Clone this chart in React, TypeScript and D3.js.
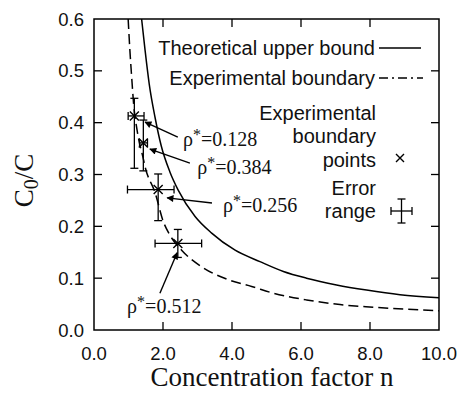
import React from 'react'
import * as d3 from 'd3'

// theoretical upper bound (solid)
const boundN = [1.38, 1.48, 1.6, 1.77, 1.95, 2.2, 2.44, 2.93, 3.41, 4.09, 4.81, 5.49, 6.16, 7.03, 7.9, 8.87, 10.0]
const boundC = [0.6, 0.54, 0.475, 0.41, 0.355, 0.305, 0.27, 0.219, 0.187, 0.154, 0.132, 0.113, 0.1, 0.087, 0.077, 0.068, 0.062]

// experimental boundary (dashed)
const expN = [0.99, 1.04, 1.09, 1.15, 1.25, 1.43, 1.48, 1.77, 2.01, 2.2, 2.54, 3.12, 3.89, 4.57, 5.2, 6.16, 7.13, 8.1, 9.06, 10.0]
const expC = [0.6, 0.54, 0.49, 0.435, 0.385, 0.33, 0.315, 0.265, 0.209, 0.183, 0.154, 0.122, 0.097, 0.084, 0.071, 0.058, 0.049, 0.044, 0.04, 0.037]

// experimental boundary points with error ranges
const rhoLabels = ['0.128', '0.384', '0.256', '0.512']
const pointN = [1.17, 1.43, 1.86, 2.43]
const pointC = [0.413, 0.361, 0.271, 0.167]
const nLow = [0.99, 1.32, 0.97, 1.77]
const nHigh = [1.45, 1.55, 2.32, 3.12]
const cLow = [0.312, 0.307, 0.211, 0.14]
const cHigh = [0.447, 0.405, 0.301, 0.194]

// annotation text anchors and arrows (data units)
const labelN = [2.58, 2.99, 3.74, 0.96]
const labelC = [0.355, 0.301, 0.228, 0.033]
const arrowFromN = [2.43, 2.78, 3.42, 1.91]
const arrowFromC = [0.372, 0.322, 0.245, 0.071]
const arrowToN = [1.48, 1.62, 2.12, 2.41]
const arrowToC = [0.401, 0.349, 0.255, 0.149]

const xTicks = [0, 2, 4, 6, 8, 10]
const yTicks = [0, 0.1, 0.2, 0.3, 0.4, 0.5, 0.6]

const W = 461
const H = 394
const left = 94
const right = 439
const top = 19
const bottom = 330
const sans = "'Liberation Sans', Arial, sans-serif"
const serif = "'Liberation Serif', 'Times New Roman', serif"

const Cross = ({ x, y, s }: { x: number; y: number; s: number }) => (
  <path d={`M${x - s},${y - s}L${x + s},${y + s}M${x - s},${y + s}L${x + s},${y - s}`} stroke="#000" strokeWidth={1.4} />
)

export default function App() {
  const x = d3.scaleLinear().domain([0, 10]).range([left, right])
  const y = d3.scaleLinear().domain([0, 0.6]).range([bottom, top])

  const curve = d3.line<[number, number]>()
    .x(d => x(d[0]))
    .y(d => y(d[1]))
    .curve(d3.curveMonotoneX)
  const boundPath = curve(boundN.map((n, i) => [n, boundC[i]]))
  const expPath = curve(expN.map((n, i) => [n, expC[i]]))

  const tick = 8
  const cap = 4

  return (
    <svg width={W} height={H} style={{ position: 'absolute', left: 0, top: 0, background: '#fff' }}>
      <defs>
        <clipPath id="plot">
          <rect x={left} y={top} width={right - left} height={bottom - top} />
        </clipPath>
        <marker id="head" viewBox="0 0 10 10" refX="9" refY="5" markerWidth="9" markerHeight="7" markerUnits="userSpaceOnUse" orient="auto">
          <path d="M0,0L10,5L0,10Z" fill="#000" />
        </marker>
      </defs>

      {/* frame */}
      <rect x={left} y={top} width={right - left} height={bottom - top} fill="none" stroke="#000" strokeWidth={1.5} />

      {/* ticks, inward on all four sides */}
      {xTicks.slice(1, -1).map(t => (
        <g key={'xt' + t}>
          <line x1={x(t)} x2={x(t)} y1={bottom} y2={bottom - tick} stroke="#000" strokeWidth={1.3} />
          <line x1={x(t)} x2={x(t)} y1={top} y2={top + tick} stroke="#000" strokeWidth={1.3} />
        </g>
      ))}
      {yTicks.slice(1, -1).map(t => (
        <g key={'yt' + t}>
          <line x1={left} x2={left + tick} y1={y(t)} y2={y(t)} stroke="#000" strokeWidth={1.3} />
          <line x1={right} x2={right - tick} y1={y(t)} y2={y(t)} stroke="#000" strokeWidth={1.3} />
        </g>
      ))}

      {/* tick labels */}
      {xTicks.map(t => (
        <text key={'xl' + t} x={x(t)} y={360} textAnchor="middle" fontFamily={sans} fontSize={18.5} fill="#111">
          {t.toFixed(1)}
        </text>
      ))}
      {yTicks.map(t => (
        <text key={'yl' + t} x={84} y={y(t)} dy="0.36em" textAnchor="end" fontFamily={sans} fontSize={18.5} fill="#111">
          {t.toFixed(1)}
        </text>
      ))}

      {/* axis titles */}
      <text x={272} y={386} textAnchor="middle" fontFamily={serif} fontSize={27} fill="#111">
        Concentration factor n
      </text>
      <text transform={`translate(33,${(top + bottom) / 2 + 6}) rotate(-90)`} textAnchor="middle" fontFamily={serif} fontSize={27} fill="#111">
        C<tspan fontSize={20} dy={5}>0</tspan><tspan dy={-5}>/C</tspan>
      </text>

      {/* curves */}
      <g clipPath="url(#plot)">
        <path d={boundPath ?? ''} fill="none" stroke="#000" strokeWidth={1.5} />
        <path d={expPath ?? ''} fill="none" stroke="#000" strokeWidth={1.5} strokeDasharray="10,5" />
      </g>

      {/* error bars and points */}
      {pointN.map((n, i) => (
        <g key={'p' + i} stroke="#000" strokeWidth={1.3}>
          <line x1={x(nLow[i])} x2={x(nHigh[i])} y1={y(pointC[i])} y2={y(pointC[i])} />
          <line x1={x(nLow[i])} x2={x(nLow[i])} y1={y(pointC[i]) - cap} y2={y(pointC[i]) + cap} />
          <line x1={x(nHigh[i])} x2={x(nHigh[i])} y1={y(pointC[i]) - cap} y2={y(pointC[i]) + cap} />
          <line x1={x(n)} x2={x(n)} y1={y(cLow[i])} y2={y(cHigh[i])} />
          <line x1={x(n) - cap} x2={x(n) + cap} y1={y(cLow[i])} y2={y(cLow[i])} />
          <line x1={x(n) - cap} x2={x(n) + cap} y1={y(cHigh[i])} y2={y(cHigh[i])} />
          <Cross x={x(n)} y={y(pointC[i])} s={4.5} />
        </g>
      ))}

      {/* annotations */}
      {rhoLabels.map((r, i) => (
        <g key={'a' + i}>
          <line x1={x(arrowFromN[i])} y1={y(arrowFromC[i])} x2={x(arrowToN[i])} y2={y(arrowToC[i])} stroke="#000" strokeWidth={1.4} markerEnd="url(#head)" />
          <text x={x(labelN[i])} y={y(labelC[i])} fontFamily={serif} fontSize={20} fill="#111">
            ρ<tspan dy={-6} fontSize={16}>*</tspan><tspan dy={6}>={r}</tspan>
          </text>
        </g>
      ))}

      {/* legend */}
      <g fontFamily={sans} fontSize={20} fill="#111" textAnchor="end">
        <text x={375} y={48} dy="0.36em">Theoretical upper bound</text>
        <line x1={379} x2={421} y1={48} y2={48} stroke="#000" strokeWidth={1.5} />
        <text x={375} y={78} dy="0.36em">Experimental boundary</text>
        <line x1={379} x2={423} y1={78} y2={78} stroke="#000" strokeWidth={1.5} strokeDasharray="9,4,2,4" />
        <text x={376} y={113} dy="0.36em">Experimental</text>
        <text x={376} y={136} dy="0.36em">boundary</text>
        <text x={376} y={160} dy="0.36em">points</text>
        <Cross x={400} y={158} s={4} />
        <text x={376} y={188} dy="0.36em">Error</text>
        <text x={376} y={211} dy="0.36em">range</text>
        <g stroke="#000" strokeWidth={1.3}>
          <line x1={391} x2={412} y1={211} y2={211} />
          <line x1={391} x2={391} y1={207} y2={215} />
          <line x1={412} x2={412} y1={207} y2={215} />
          <line x1={401.5} x2={401.5} y1={199} y2={223} />
          <line x1={397.5} x2={405.5} y1={199} y2={199} />
          <line x1={397.5} x2={405.5} y1={223} y2={223} />
        </g>
      </g>
    </svg>
  )
}
